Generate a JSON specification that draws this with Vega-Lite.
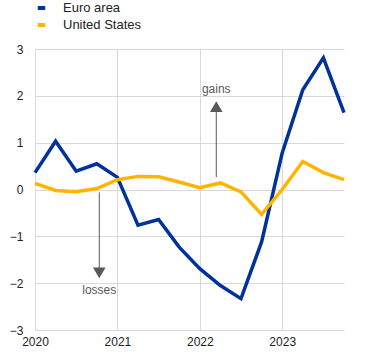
{
  "$schema": "https://vega.github.io/schema/vega-lite/v6.json",
  "width": 309,
  "height": 281,
  "autosize": "none",
  "padding": {"left": 35, "top": 49, "right": 26, "bottom": 25},
  "config": {
    "view": {"stroke": null},
    "font": "Liberation Sans",
    "axis": {"labelFont": "Liberation Sans", "labelFontSize": 12, "labelColor": "#222222", "gridColor": "#d9d9d9", "gridWidth": 1, "ticks": false, "domain": false, "labelFlush": false, "title": null}
  },
  "layer": [
    {
      "mark": {"type": "rule", "color": "#404040", "strokeWidth": 2},
      "encoding": {"y": {"datum": 0, "type": "quantitative"}}
    },
    {
      "data": {"values": [
        {"s": "Euro area", "t": 2020.0, "v": 0.36},
        {"s": "Euro area", "t": 2020.25, "v": 1.03},
        {"s": "Euro area", "t": 2020.5, "v": 0.39},
        {"s": "Euro area", "t": 2020.75, "v": 0.55},
        {"s": "Euro area", "t": 2021.0, "v": 0.26},
        {"s": "Euro area", "t": 2021.25, "v": -0.76},
        {"s": "Euro area", "t": 2021.5, "v": -0.64},
        {"s": "Euro area", "t": 2021.75, "v": -1.23},
        {"s": "Euro area", "t": 2022.0, "v": -1.69},
        {"s": "Euro area", "t": 2022.25, "v": -2.05},
        {"s": "Euro area", "t": 2022.5, "v": -2.33},
        {"s": "Euro area", "t": 2022.75, "v": -1.12},
        {"s": "Euro area", "t": 2023.0, "v": 0.78},
        {"s": "Euro area", "t": 2023.25, "v": 2.13},
        {"s": "Euro area", "t": 2023.5, "v": 2.81},
        {"s": "Euro area", "t": 2023.75, "v": 1.64},
        {"s": "United States", "t": 2020.0, "v": 0.13},
        {"s": "United States", "t": 2020.25, "v": -0.02},
        {"s": "United States", "t": 2020.5, "v": -0.05},
        {"s": "United States", "t": 2020.75, "v": 0.02},
        {"s": "United States", "t": 2021.0, "v": 0.21},
        {"s": "United States", "t": 2021.25, "v": 0.28},
        {"s": "United States", "t": 2021.5, "v": 0.27},
        {"s": "United States", "t": 2021.75, "v": 0.16},
        {"s": "United States", "t": 2022.0, "v": 0.04},
        {"s": "United States", "t": 2022.25, "v": 0.14},
        {"s": "United States", "t": 2022.5, "v": -0.05},
        {"s": "United States", "t": 2022.75, "v": -0.53},
        {"s": "United States", "t": 2023.0, "v": 0.0},
        {"s": "United States", "t": 2023.25, "v": 0.6},
        {"s": "United States", "t": 2023.5, "v": 0.36},
        {"s": "United States", "t": 2023.75, "v": 0.21}
      ]},
      "mark": {"type": "line", "strokeWidth": 3.5},
      "encoding": {
        "x": {"field": "t", "type": "quantitative", "scale": {"domain": [2020, 2023.75], "nice": false, "zero": false},
              "axis": {"values": [2020, 2021, 2022, 2023], "format": "d", "grid": true, "labelPadding": 6}},
        "y": {"field": "v", "type": "quantitative", "scale": {"domain": [-3, 3], "nice": false},
              "axis": {"values": [-3, -2, -1, 0, 1, 2, 3], "grid": true, "labelPadding": 12}},
        "color": {"field": "s", "type": "nominal",
                  "scale": {"domain": ["Euro area", "United States"], "range": ["#003299", "#ffb400"]},
                  "legend": {"title": null, "orient": "none", "legendX": 0, "legendY": -47.5, "symbolType": "stroke", "symbolSize": 56, "symbolStrokeWidth": 4, "labelFontSize": 13, "labelColor": "#222222", "labelOffset": 15, "rowPadding": 0}}
      }
    },
    {
      "data": {"values": [
        {"t": 2022.2, "v": 0.26, "v2": 1.66},
        {"t": 2020.78, "v": -0.06, "v2": -1.7}
      ]},
      "mark": {"type": "rule", "color": "#595959", "strokeWidth": 1},
      "encoding": {"x": {"field": "t", "type": "quantitative"}, "y": {"field": "v", "type": "quantitative"}, "y2": {"field": "v2"}}
    },
    {
      "data": {"values": [
        {"t": 2022.2, "v": 1.77, "sh": "triangle-up"},
        {"t": 2020.78, "v": -1.78, "sh": "triangle-down"}
      ]},
      "mark": {"type": "point", "filled": true, "color": "#595959", "size": 160, "opacity": 1},
      "encoding": {"x": {"field": "t", "type": "quantitative"}, "y": {"field": "v", "type": "quantitative"}, "shape": {"field": "sh", "type": "nominal", "scale": null}}
    },
    {
      "data": {"values": [
        {"t": 2022.2, "v": 2.15, "label": "gains"},
        {"t": 2020.78, "v": -2.15, "label": "losses"}
      ]},
      "mark": {"type": "text", "color": "#595959", "fontSize": 12, "align": "center", "baseline": "middle"},
      "encoding": {"x": {"field": "t", "type": "quantitative"}, "y": {"field": "v", "type": "quantitative"}, "text": {"field": "label"}}
    }
  ]
}
